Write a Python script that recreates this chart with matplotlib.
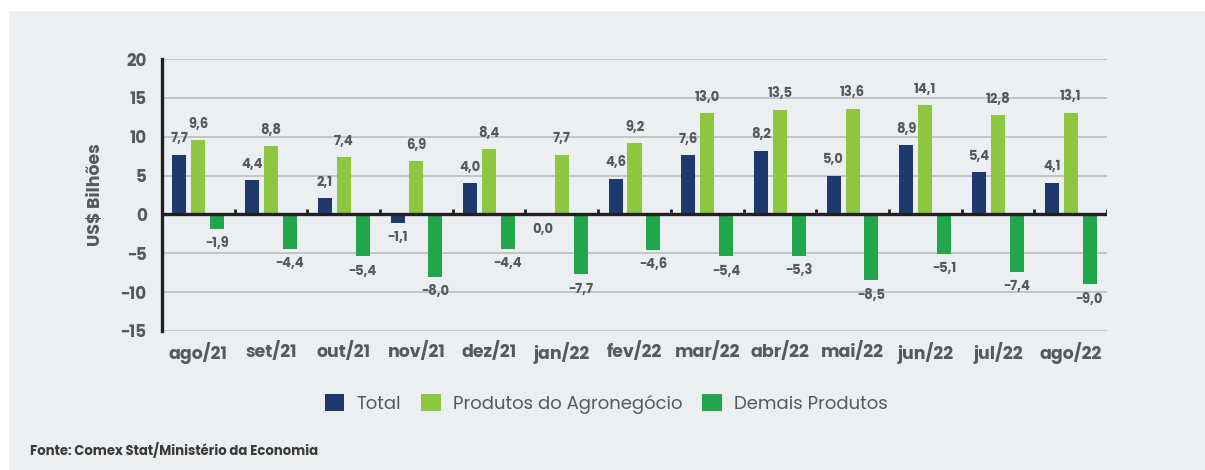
import matplotlib.pyplot as plt
import matplotlib.patches as mpatches
import numpy as np

meses = ['ago/21', 'set/21', 'out/21', 'nov/21', 'dez/21', 'jan/22', 'fev/22',
         'mar/22', 'abr/22', 'mai/22', 'jun/22', 'jul/22', 'ago/22']
total = [7.7, 4.4, 2.1, -1.1, 4.0, 0.0, 4.6, 7.6, 8.2, 5.0, 8.9, 5.4, 4.1]
agro = [9.6, 8.8, 7.4, 6.9, 8.4, 7.7, 9.2, 13.0, 13.5, 13.6, 14.1, 12.8, 13.1]
demais = [-1.9, -4.4, -5.4, -8.0, -4.4, -7.7, -4.6, -5.4, -5.3, -8.5, -5.1, -7.4, -9.0]
series_nomes = ['Total', 'Produtos do Agronegócio', 'Demais Produtos']
cores = ['#1f386e', '#8dc63f', '#21a64b']

plt.rcParams['font.family'] = ['Poppins', 'Lato', 'DejaVu Sans']
cinza = '#58595b'

fig = plt.figure(figsize=(12.05, 4.70), dpi=100)
fig.patches.append(mpatches.Rectangle((9 / 1205, 0), 1, 1 - 11 / 470,
                                      transform=fig.transFigure,
                                      facecolor='#eceff1', edgecolor='none', zorder=0))

ax = fig.add_axes([162 / 1205, 1 - 331 / 470, (1107 - 162) / 1205, (331 - 59) / 470])
ax.set_facecolor('none')
ax.set_zorder(2)

x = np.arange(len(meses))
w = 0.193
offs = [-0.26, 0, 0.26]

for serie, off, cor in zip([total, agro, demais], offs, cores):
    bars = ax.bar(x + off, serie, w, color=cor, zorder=3)
    for xi, v in zip(x + off, serie):
        lab = f'{v:.1f}'.replace('.', ',').replace('-', '\u2212')
        dy = 11 if v > 0 else -11
        ax.annotate(lab, (xi, v), xytext=(0, dy), textcoords='offset points',
                    ha='center', va='center', fontsize=9.5, fontweight='bold',
                    color=cinza, zorder=4)

ax.set_xlim(-0.5, len(meses) - 0.5)
ax.set_ylim(-15, 20)
ax.set_yticks(range(-15, 21, 5))
ax.set_yticklabels([str(t).replace('-', '\u2212') for t in range(-15, 21, 5)])
ax.grid(axis='y', color='#bfc1c3', linewidth=1.3, zorder=1)
ax.axhline(0, color='#231f20', linewidth=2.4, zorder=5)
ax.vlines(np.arange(len(meses) + 1) - 0.5, 0, 0.65, color='#231f20', linewidth=2, zorder=5)

for s in ['top', 'right', 'bottom']:
    ax.spines[s].set_visible(False)
ax.spines['left'].set_linewidth(2.4)
ax.spines['left'].set_color('#231f20')
ax.spines['left'].set_zorder(6)

ax.set_xticks(x)
ax.set_xticklabels(meses)
ax.tick_params(axis='x', length=0, pad=8, labelsize=12.5, labelcolor=cinza)
ax.tick_params(axis='y', length=0, pad=11, labelsize=12, labelcolor=cinza)
for t in ax.get_xticklabels() + ax.get_yticklabels():
    t.set_fontweight('bold')

ax.set_ylabel('US$ Bilhões', fontsize=12.5, fontweight='bold', color=cinza, labelpad=11)

handles = [mpatches.FancyBboxPatch((0, 0), 1, 1, boxstyle='round,pad=0,rounding_size=0.2',
                                   facecolor=c, edgecolor='none', label=n)
           for c, n in zip(cores, series_nomes)]
leg = fig.legend(handles=handles, loc='center', bbox_to_anchor=(606 / 1205, 1 - 404 / 470),
                 ncol=3, frameon=False, fontsize=13, handlelength=1.1, handleheight=1.1,
                 handletextpad=0.66, columnspacing=1.1)
for t in leg.get_texts():
    t.set_color(cinza)

fig.text(30 / 1205, 1 - 451 / 470, 'Fonte: Comex Stat/Ministério da Economia',
         fontsize=9.5, fontweight='bold', color='#3a3a3a', va='center', ha='left')

fig.savefig('out.png', dpi=100)
